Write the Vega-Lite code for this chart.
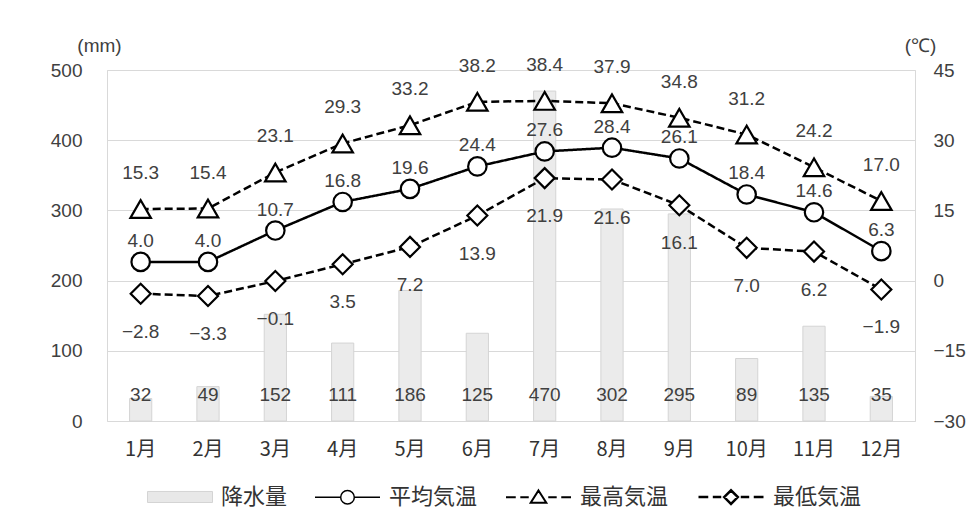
{
  "$schema": "https://vega.github.io/schema/vega-lite/v6.json",
  "width": 808,
  "height": 351,
  "autosize": {"type": "none"},
  "padding": {"left": 107, "top": 70, "right": 60, "bottom": 103},
  "background": "white",
  "config": {
    "font": "Liberation Sans",
    "view": {"stroke": "#d9d9d9", "strokeWidth": 1},
    "axis": {"labelFontSize": 19, "labelColor": "#404040", "domain": false, "ticks": false, "titleFontWeight": "normal", "titleFontSize": 19, "titleColor": "#404040", "titleFont": "Liberation Sans", "labelFont": "Liberation Sans"},
    "text": {"font": "Liberation Sans", "fontSize": 19, "fill": "#404040"},
    "legend": {"orient": "none", "legendX": 40, "legendY": 393, "direction": "horizontal", "symbolSize": 4225, "labelFont": "Noto Sans CJK JP", "labelFontSize": 22, "labelColor": "#333333", "labelOffset": 8, "columnPadding": 24, "titleFontSize": 0}
  },
  "datasets": {
    "precip": [
      {"month": "1月", "precip": 32}, {"month": "2月", "precip": 49}, {"month": "3月", "precip": 152},
      {"month": "4月", "precip": 111}, {"month": "5月", "precip": 186}, {"month": "6月", "precip": 125},
      {"month": "7月", "precip": 470}, {"month": "8月", "precip": 302}, {"month": "9月", "precip": 295},
      {"month": "10月", "precip": 89}, {"month": "11月", "precip": 135}, {"month": "12月", "precip": 35}
    ],
    "temps": [
      {"month": "1月", "series": "平均気温", "temp": 4.0}, {"month": "2月", "series": "平均気温", "temp": 4.0},
      {"month": "3月", "series": "平均気温", "temp": 10.7}, {"month": "4月", "series": "平均気温", "temp": 16.8},
      {"month": "5月", "series": "平均気温", "temp": 19.6}, {"month": "6月", "series": "平均気温", "temp": 24.4},
      {"month": "7月", "series": "平均気温", "temp": 27.6}, {"month": "8月", "series": "平均気温", "temp": 28.4},
      {"month": "9月", "series": "平均気温", "temp": 26.1}, {"month": "10月", "series": "平均気温", "temp": 18.4},
      {"month": "11月", "series": "平均気温", "temp": 14.6}, {"month": "12月", "series": "平均気温", "temp": 6.3},
      {"month": "1月", "series": "最高気温", "temp": 15.3}, {"month": "2月", "series": "最高気温", "temp": 15.4},
      {"month": "3月", "series": "最高気温", "temp": 23.1}, {"month": "4月", "series": "最高気温", "temp": 29.3},
      {"month": "5月", "series": "最高気温", "temp": 33.2}, {"month": "6月", "series": "最高気温", "temp": 38.2},
      {"month": "7月", "series": "最高気温", "temp": 38.4}, {"month": "8月", "series": "最高気温", "temp": 37.9},
      {"month": "9月", "series": "最高気温", "temp": 34.8}, {"month": "10月", "series": "最高気温", "temp": 31.2},
      {"month": "11月", "series": "最高気温", "temp": 24.2}, {"month": "12月", "series": "最高気温", "temp": 17.0},
      {"month": "1月", "series": "最低気温", "temp": -2.8}, {"month": "2月", "series": "最低気温", "temp": -3.3},
      {"month": "3月", "series": "最低気温", "temp": -0.1}, {"month": "4月", "series": "最低気温", "temp": 3.5},
      {"month": "5月", "series": "最低気温", "temp": 7.2}, {"month": "6月", "series": "最低気温", "temp": 13.9},
      {"month": "7月", "series": "最低気温", "temp": 21.9}, {"month": "8月", "series": "最低気温", "temp": 21.6},
      {"month": "9月", "series": "最低気温", "temp": 16.1}, {"month": "10月", "series": "最低気温", "temp": 7.0},
      {"month": "11月", "series": "最低気温", "temp": 6.2}, {"month": "12月", "series": "最低気温", "temp": -1.9}
    ]
  },
  "resolve": {"scale": {"y": "independent"}, "axis": {"y": "independent"}},
  "encoding": {
    "x": {
      "field": "month", "type": "nominal", "sort": null,
      "scale": {"domain": ["1月", "2月", "3月", "4月", "5月", "6月", "7月", "8月", "9月", "10月", "11月", "12月"], "paddingInner": 0, "paddingOuter": 0},
      "axis": {"title": null, "labelAngle": 0, "grid": false, "labelFont": "Noto Sans CJK JP", "labelFontSize": 20, "labelPadding": 28, "labelBaseline": "middle", "labelColor": "#333333"}
    }
  },
  "layer": [
    {
      "data": {"name": "precip"},
      "layer": [
        {
          "mark": {"type": "bar", "width": {"band": 0.33}, "fill": "#ebebeb", "stroke": "#d4d4d4", "strokeWidth": 1},
          "encoding": {
            "y": {
              "field": "precip", "type": "quantitative",
              "scale": {"domain": [0, 500], "nice": false, "zero": true},
              "axis": {"orient": "left", "values": [0, 100, 200, 300, 400, 500], "grid": true, "gridColor": "#d9d9d9", "labelPadding": 25, "title": "(mm)", "titleAngle": 0, "titleX": -8, "titleY": -25, "titleAlign": "center", "titleBaseline": "middle"}
            }
          }
        },
        {
          "mark": {"type": "text", "baseline": "middle", "align": "center"},
          "encoding": {
            "y": {"datum": 37, "type": "quantitative"},
            "text": {"field": "precip", "type": "quantitative"}
          }
        }
      ]
    },
    {
      "data": {"name": "temps"},
      "layer": [
        {
          "mark": {"type": "line", "color": "black", "strokeWidth": 2.5},
          "encoding": {
            "y": {
              "field": "temp", "type": "quantitative",
              "scale": {"domain": [-30, 45], "nice": false, "zero": false},
              "axis": {"orient": "right", "values": [-30, -15, 0, 15, 30, 45], "grid": false, "labelPadding": 18, "title": "(℃)", "titleAngle": 0, "titleX": 5, "titleY": -25, "titleAlign": "center", "titleBaseline": "middle"}
            },
            "strokeDash": {"field": "series", "type": "nominal", "scale": {"domain": ["平均気温", "最高気温", "最低気温"], "range": [[1, 0], [8, 4], [8, 4]]}, "legend": null}
          }
        },
        {
          "transform": [{"filter": "datum.series == '平均気温'"}],
          "mark": {"type": "point", "shape": "circle", "size": 340, "filled": true, "fill": "white", "stroke": "black", "strokeWidth": 2.2, "opacity": 1},
          "encoding": {"y": {"field": "temp", "type": "quantitative"}}
        },
        {
          "transform": [{"filter": "datum.series == '最高気温'"}],
          "mark": {"type": "point", "shape": "triangle-up", "size": 420, "filled": true, "fill": "white", "stroke": "black", "strokeWidth": 2.2, "opacity": 1},
          "encoding": {"y": {"field": "temp", "type": "quantitative"}}
        },
        {
          "transform": [{"filter": "datum.series == '最低気温'"}],
          "mark": {"type": "point", "shape": "diamond", "size": 400, "filled": true, "fill": "white", "stroke": "black", "strokeWidth": 2.2, "opacity": 1},
          "encoding": {"y": {"field": "temp", "type": "quantitative"}}
        },
        {
          "transform": [{"filter": "datum.series == '平均気温'"}],
          "mark": {"type": "text", "baseline": "middle", "align": "center", "dy": -21},
          "encoding": {"y": {"field": "temp", "type": "quantitative"}, "text": {"field": "temp", "type": "quantitative", "format": ".1f"}}
        },
        {
          "transform": [{"filter": "datum.series == '最高気温'"}],
          "mark": {"type": "text", "baseline": "middle", "align": "center", "dy": -36},
          "encoding": {"y": {"field": "temp", "type": "quantitative"}, "text": {"field": "temp", "type": "quantitative", "format": ".1f"}}
        },
        {
          "transform": [{"filter": "datum.series == '最低気温'"}],
          "mark": {"type": "text", "baseline": "middle", "align": "center", "dy": 38},
          "encoding": {"y": {"field": "temp", "type": "quantitative"}, "text": {"field": "temp", "type": "quantitative", "format": ".1f"}}
        },
        {
          "transform": [{"filter": "false"}],
          "mark": {"type": "point", "size": 4225, "opacity": 1},
          "encoding": {
            "shape": {"field": "series", "type": "nominal", "title": null,
              "scale": {"domain": ["降水量", "平均気温", "最高気温", "最低気温"], "range": ["M-1,-0.17H1V0.17H-1Z", "M-1,0H-0.21M0.21,0H1M0.21,0A0.21,0.21 0 1,1 -0.21,0A0.21,0.21 0 1,1 0.21,0Z", "M-1,0H-0.7M-0.56,0H-0.3M0.3,0H0.56M0.7,0H1M0,-0.21L0.24,0.17L-0.24,0.17Z", "M-1,0H-0.7M-0.56,0H-0.3M0.3,0H0.56M0.7,0H1M-0.21,0L0,-0.21L0.21,0L0,0.21Z"]}},
            "fill": {"field": "series", "type": "nominal", "title": null,
              "scale": {"domain": ["降水量", "平均気温", "最高気温", "最低気温"], "range": ["#e8e8e8", "white", "white", "white"]}},
            "stroke": {"field": "series", "type": "nominal", "title": null,
              "scale": {"domain": ["降水量", "平均気温", "最高気温", "最低気温"], "range": ["#d4d4d4", "black", "black", "black"]}},
            "strokeWidth": {"field": "series", "type": "nominal", "title": null,
              "scale": {"domain": ["降水量", "平均気温", "最高気温", "最低気温"], "range": [1, 2.5, 2.5, 2.5]}}
          }
        }
      ]
    }
  ]
}
